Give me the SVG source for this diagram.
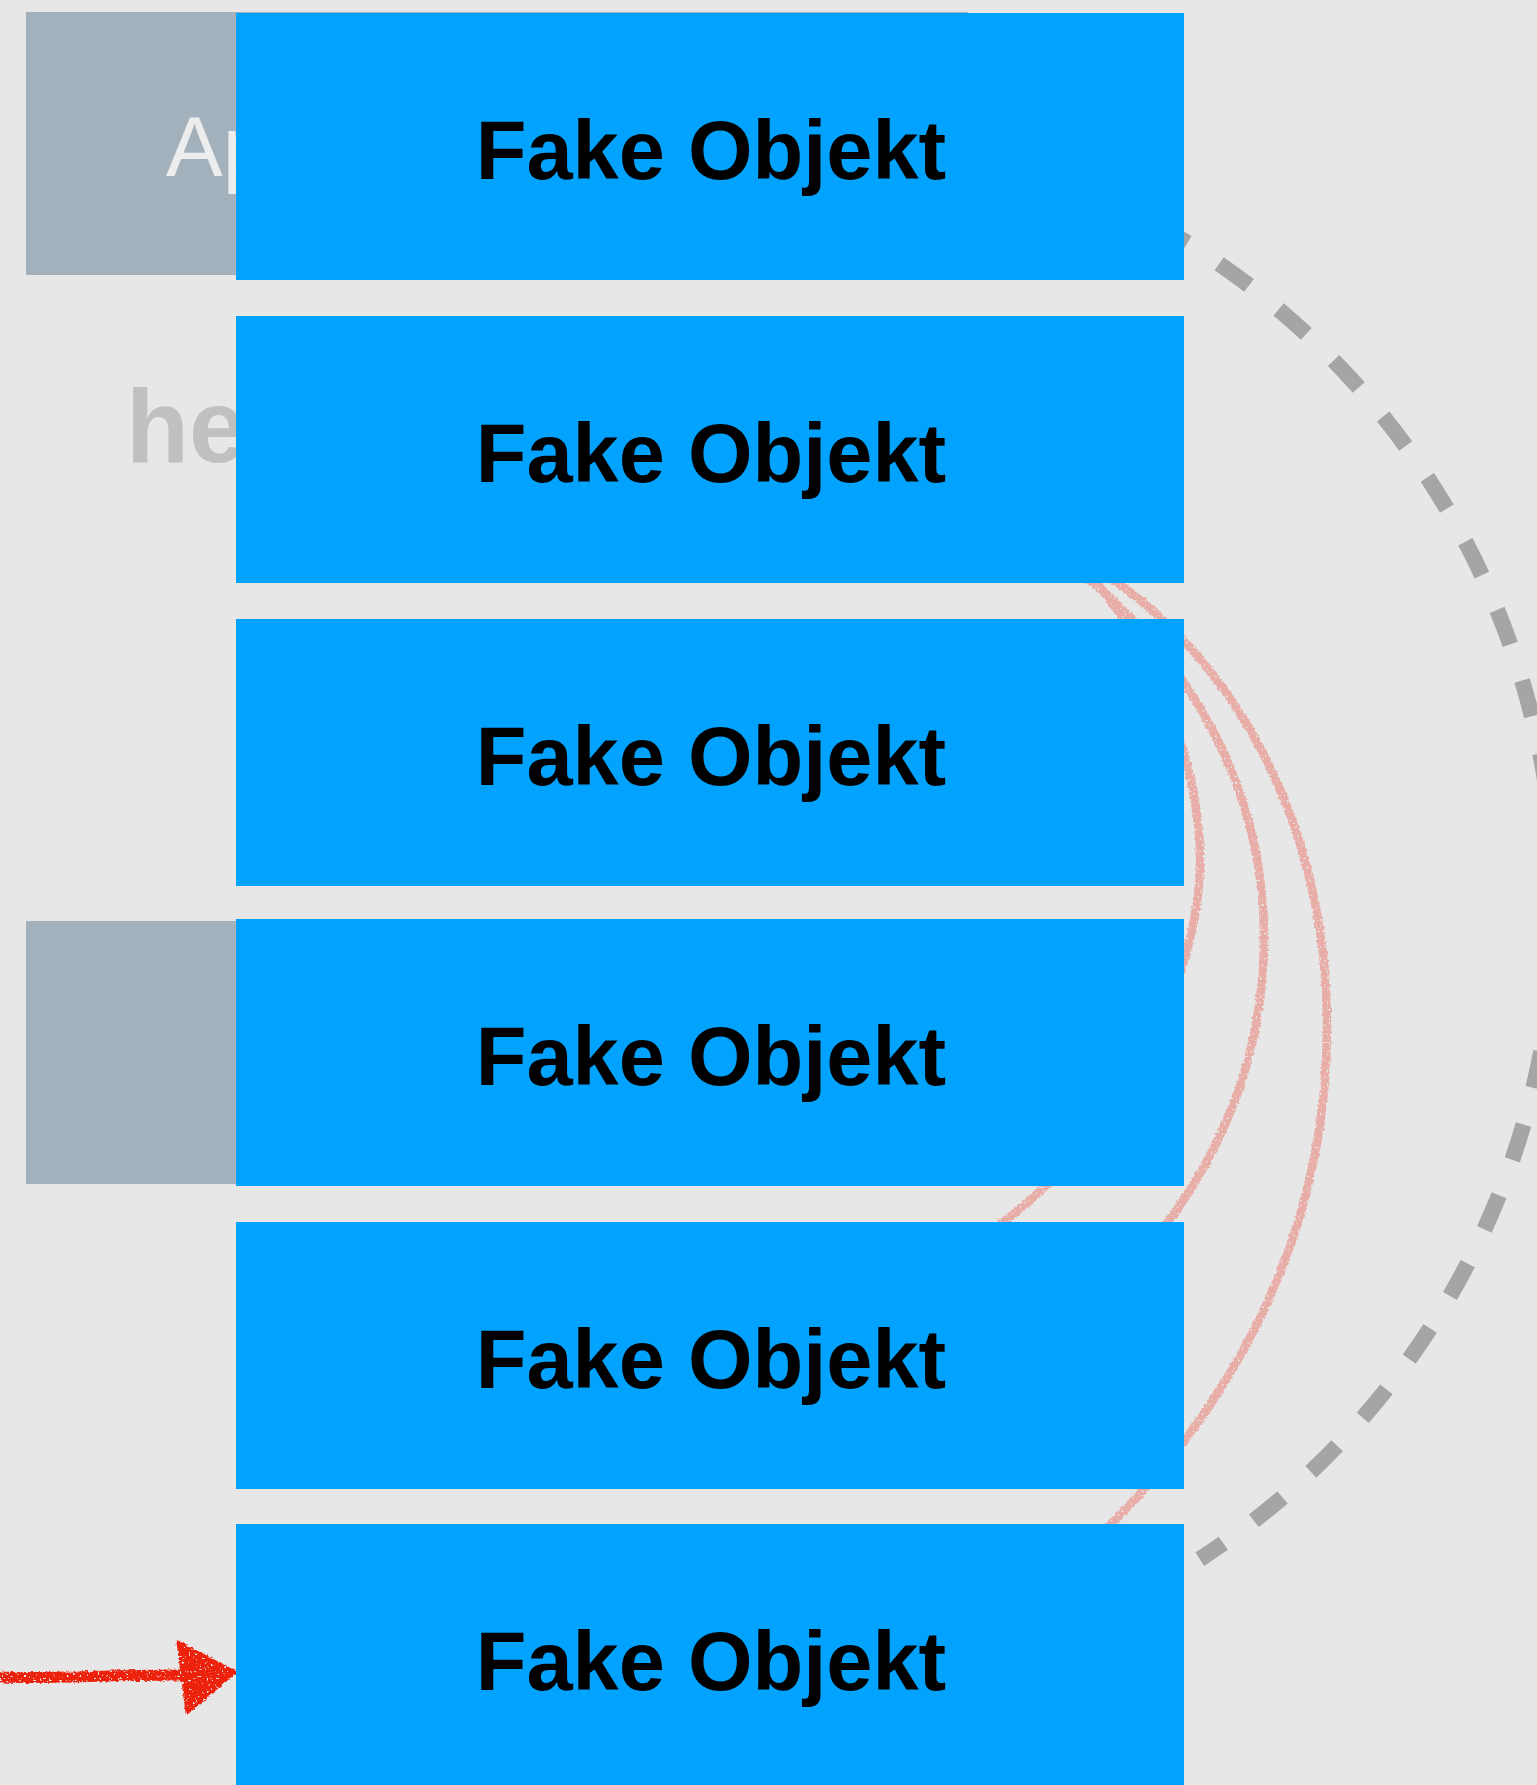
<svg xmlns="http://www.w3.org/2000/svg" width="1537" height="1785" viewBox="0 0 1537 1785">
  <defs>
    <style>
      .back { fill: #a3b1bd; }
      .fake { fill: #02a2ff; }
      .fake-label { font-family: "Liberation Sans", Arial, Helvetica, sans-serif; font-weight: bold; font-size: 83px; fill: #000; text-anchor: middle; }
      .ghost { font-family: "Liberation Sans", Arial, Helvetica, sans-serif; }
      .cycle { fill: none; stroke: #a5a5a5; stroke-width: 16; stroke-dasharray: 37 38; stroke-linecap: butt; }
      .crayon { fill: none; stroke: #e8ada6; stroke-width: 8.5; stroke-linecap: round; filter: url(#rough); }
      .pointer { stroke: #ec2410; fill: #ec2410; filter: url(#rough); }
    </style>
    <!-- pencil-like wobble and light grain for the hand-drawn strokes -->
    <filter id="rough" filterUnits="userSpaceOnUse" x="0" y="0" width="1537" height="1785">
      <feTurbulence type="fractalNoise" baseFrequency="0.35" numOctaves="2" seed="4" result="noise"/>
      <feDisplacementMap in="SourceGraphic" in2="noise" scale="4" xChannelSelector="R" yChannelSelector="G" result="wobble"/>
      <feTurbulence type="fractalNoise" baseFrequency="0.45" numOctaves="1" seed="11" result="grain"/>
      <feColorMatrix in="grain" type="matrix" values="0 0 0 0 0  0 0 0 0 0  0 0 0 0 0  0 0 0 12 -3.4" result="mask"/>
      <feComposite in="wobble" in2="mask" operator="in"/>
    </filter>
  </defs>

  <!-- canvas -->
  <rect x="0" y="0" width="1537" height="1785" fill="#e7e7e7"/>

  <!-- background layer, mostly covered by the fake objects -->
  <g id="app-box">
    <rect class="back" x="26" y="12" width="942" height="263"/>
    <text class="ghost" x="166" y="176" font-size="85" fill="#ededed">Ap</text>
  </g>
  <g id="he-label">
    <text class="ghost" x="126" y="462" font-size="103" font-weight="bold" fill="#c0c0c0">he</text>
  </g>
  <g id="second-box">
    <rect class="back" x="26" y="921" width="942" height="263"/>
  </g>

  <!-- connectors -->
  <g id="connectors">
    <path class="cycle" d="M1155.6,224.1 A780,780 0 0 1 1199.8,1559.2"/>
    <path class="crayon" d="M1085,570 C1150,640 1200,760 1200,860 C1200,980 1120,1140 990,1232"/>
    <path class="crayon" d="M1080,572 C1180,650 1265,780 1264,940 C1263,1060 1220,1160 1150,1245"/>
    <path class="crayon" d="M1092,566 C1230,650 1328,820 1327,1030 C1326,1250 1220,1420 1100,1535"/>
    <g class="pointer">
      <path d="M0,1677 C50,1679 100,1675 182,1675" fill="none" stroke-width="11"/>
      <path d="M178,1642 L235,1672 L187,1713 Z" stroke-width="3" stroke-linejoin="round"/>
    </g>
  </g>

  <!-- stack of fake objects -->
  <g id="fake-1">
    <rect class="fake" x="236" y="13" width="948" height="267"/>
    <text class="fake-label" x="711" y="179">Fake Objekt</text>
  </g>
  <g id="fake-2">
    <rect class="fake" x="236" y="316" width="948" height="267"/>
    <text class="fake-label" x="711" y="482">Fake Objekt</text>
  </g>
  <g id="fake-3">
    <rect class="fake" x="236" y="619" width="948" height="267"/>
    <text class="fake-label" x="711" y="785">Fake Objekt</text>
  </g>
  <g id="fake-4">
    <rect class="fake" x="236" y="919" width="948" height="267"/>
    <text class="fake-label" x="711" y="1085">Fake Objekt</text>
  </g>
  <g id="fake-5">
    <rect class="fake" x="236" y="1222" width="948" height="267"/>
    <text class="fake-label" x="711" y="1388">Fake Objekt</text>
  </g>
  <g id="fake-6">
    <rect class="fake" x="236" y="1524" width="948" height="267"/>
    <text class="fake-label" x="711" y="1690">Fake Objekt</text>
  </g>
</svg>
